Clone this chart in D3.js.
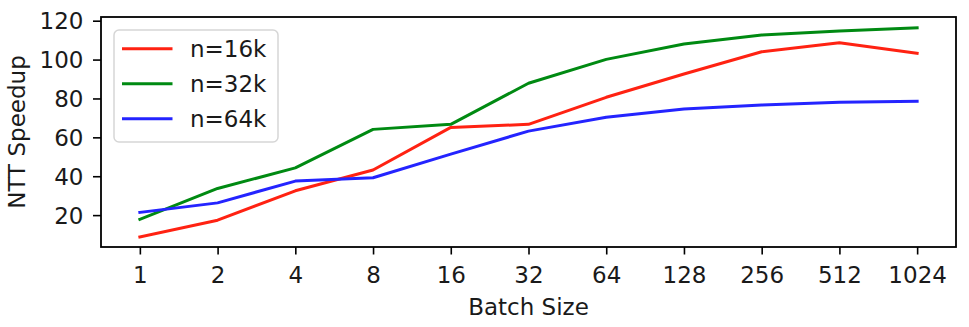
<!DOCTYPE html>
<html>
<head>
<meta charset="utf-8">
<script src="https://cdn.jsdelivr.net/npm/d3@7"></script>
<style>
  html, body { margin: 0; padding: 0; background: #fff; }
  svg { display: block; }
  text { font-family: "DejaVu Sans", sans-serif; fill: #1a1a1a; }
</style>
</head>
<body>
<svg id="chart" width="969" height="327"></svg>
<script>
const categories = ["1", "2", "4", "8", "16", "32", "64", "128", "256", "512", "1024"];
const n16k = [8.8, 17.4, 32.5, 43.2, 65.1, 66.7, 80.6, 92.6, 104.0, 108.7, 103.2];
const n32k = [17.8, 33.7, 44.3, 64.1, 66.7, 87.8, 100.1, 108.0, 112.6, 114.7, 116.4];
const n64k = [21.4, 26.3, 37.5, 39.2, 51.4, 63.2, 70.3, 74.6, 76.6, 78.0, 78.5];
const seriesNames = ["n=16k", "n=32k", "n=64k"];
const seriesColors = ["#ff2212", "#008a12", "#2424ff"];
const yTicks = [20, 40, 60, 80, 100, 120];
const xLabel = "Batch Size";
const yLabel = "NTT Speedup";

const series = [n16k, n32k, n64k];

const svg = d3.select("#chart");
const L = 101, R = 956, T = 17, B = 247;
const fs = 23;

const x = d3.scalePoint().domain(categories).range([L, R]).padding(0.5);
const y = d3.scaleLinear().domain([3.6, 121.9]).range([B, T]);

// axes
const xAxis = svg.append("g").attr("transform", `translate(0,${B})`)
  .call(d3.axisBottom(x).tickSize(7.5).tickPadding(4));
xAxis.select(".domain").remove();
xAxis.selectAll(".tick line").attr("stroke", "#000").attr("stroke-width", 1.6);
xAxis.selectAll(".tick text").attr("font-size", fs).attr("font-family", "DejaVu Sans").attr("fill", "#1a1a1a")
  .attr("dy", null).attr("y", 35.5);

const yAxis = svg.append("g").attr("transform", `translate(${L},0)`)
  .call(d3.axisLeft(y).tickValues(yTicks).tickSize(8).tickPadding(8));
yAxis.select(".domain").remove();
yAxis.selectAll(".tick line").attr("stroke", "#000").attr("stroke-width", 1.6);
yAxis.selectAll(".tick text").attr("font-size", fs).attr("font-family", "DejaVu Sans").attr("fill", "#1a1a1a")
  .attr("dy", "0.36em").attr("x", -17.5);

// lines
const line = d3.line().x((d, i) => x(categories[i])).y(d => y(d));
series.forEach((s, k) => {
  svg.append("path").datum(s)
    .attr("d", line)
    .attr("fill", "none")
    .attr("stroke", seriesColors[k])
    .attr("stroke-width", 3)
    .attr("stroke-linejoin", "round")
    .attr("stroke-linecap", "square");
});

// frame
svg.append("rect").attr("x", L).attr("y", T).attr("width", R - L).attr("height", B - T)
  .attr("fill", "none").attr("stroke", "#000").attr("stroke-width", 1.8);

// legend
const lg = svg.append("g");
lg.append("rect").attr("x", 114).attr("y", 30).attr("width", 164).attr("height", 112)
  .attr("rx", 5).attr("fill", "rgba(255,255,255,0.8)").attr("stroke", "#d6d6d6").attr("stroke-width", 1.5);
seriesNames.forEach((name, k) => {
  const yy = 48.7 + k * 35;
  lg.append("line").attr("x1", 122).attr("x2", 172.5).attr("y1", yy).attr("y2", yy)
    .attr("stroke", seriesColors[k]).attr("stroke-width", 3);
  lg.append("text").attr("x", 190).attr("y", yy + 8.2).attr("font-size", fs).text(name);
});

// axis labels
svg.append("text").attr("x", (L + R) / 2).attr("y", 315).attr("text-anchor", "middle")
  .attr("font-size", fs).text(xLabel);
svg.append("text").attr("transform", `translate(24.5,${(T + B) / 2}) rotate(-90)`)
  .attr("text-anchor", "middle").attr("font-size", fs).text(yLabel);
</script>
</body>
</html>
